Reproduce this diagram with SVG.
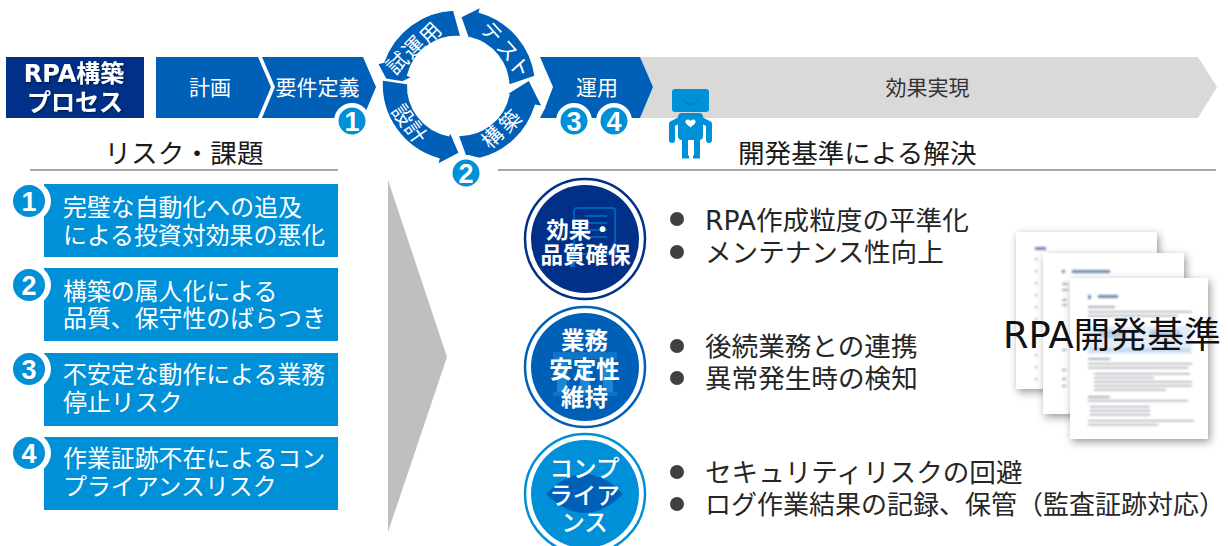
<svg xmlns="http://www.w3.org/2000/svg" xmlns:xlink="http://www.w3.org/1999/xlink" width="1228" height="546" viewBox="0 0 1228 546">
<style>
text{font-family:"DejaVu Sans","Noto Sans CJK JP",sans-serif}
.w{fill:#fff}
.mid{text-anchor:middle}
.head{font-size:26.6px;fill:#1a1a1a}
.chev{font-size:21px;fill:#fff}
.risk{font-size:23.9px;fill:#fff}
.item{font-size:26.6px;fill:#262626}
.ring{font-size:21px;fill:#fff;text-anchor:middle}
.capt{font-size:23.5px;fill:#fff;text-anchor:middle;font-weight:700}
.num{font-family:"Liberation Sans",sans-serif;font-weight:700;font-size:27px;fill:#fff;text-anchor:middle}
.blue{fill:#0060b8}
.sky{fill:#0090d8}
.seg{fill:#0060b8;stroke:#fff;stroke-width:2.500;stroke-linejoin:miter}
.pg{fill:#fff;filter:url(#pageShadow)}
.ln{fill:#a8adb5}
.ln2{fill:#6f87b0}
</style>
<defs>
<filter id="pageShadow" x="-15%" y="-15%" width="130%" height="130%"><feDropShadow dx="2" dy="3" stdDeviation="4" flood-color="#000" flood-opacity=".4"/></filter>
<filter id="soft" x="-5%" y="-20%" width="110%" height="140%"><feGaussianBlur stdDeviation=".9"/></filter>
<filter id="titleShadow" x="-10%" y="-10%" width="120%" height="130%"><feDropShadow dx="1" dy="1" stdDeviation="1" flood-color="#000" flood-opacity=".5"/></filter>
<g id="badge"><circle r="18" fill="#fff"/><circle r="13.500" fill="#0090d8"/></g>
<g id="badge-large"><circle cx="2" r="20" fill="#fff"/><circle r="16" fill="#0090d8"/></g>
</defs>
<rect width="1228" height="546" fill="#fff"/>

<g id="process-title">
<rect x="6" y="57" width="138" height="61" fill="#003087"/>
<g filter="url(#titleShadow)">
<text class="w mid" x="74" y="81.500" font-size="24" font-weight="700">RPA構築</text>
<text class="w mid" x="75" y="110.500" font-size="24" font-weight="700">プロセス</text>
</g>
</g>

<g id="step-plan">
<path class="blue" d="M156 57H258L271 87 258 118H156Z"/>
<text class="chev mid" x="210" y="94.500">計画</text>
</g>
<g id="step-requirements">
<path class="blue" d="M262 57H363L376 87 363 118H262L275 87Z"/>
<text class="chev mid" x="317.500" y="94.500">要件定義</text>
</g>
<g id="step-benefit">
<path fill="#d9d9d9" d="M640 57H1198L1217 87 1198 118H640L653 87Z"/>
<text class="mid" x="927.500" y="94.500" font-size="21" fill="#333">効果実現</text>
</g>
<g id="step-operation">
<path class="blue" d="M540 57H640L653 87 640 118H540L545 108 553 87Z"/>
<text class="chev mid" x="597" y="94.500">運用</text>
</g>

<g id="connectors">
<!-- four ring arrows running counter-clockwise -->
<path class="seg" d="M461.700 37.300A50 50 0 0 0 408.300 75L413.300 77.300 390 88.300 376.700 63.300 383.300 61.700A78 78 0 0 1 454 9.500Z"/>
<path class="seg" d="M408.300 83.300A50 50 0 0 0 448.300 135L450 130 460 153.300 436.700 165.700 438.300 159.300A78 78 0 0 1 381.700 79.300Z"/>
<path class="seg" d="M457.300 135A50 50 0 0 0 508.300 95L505 94.300 529.300 79.300 543.300 107.300 535.700 106A78 78 0 0 1 480 159 L465 156Z"/>
<path class="seg" d="M508.300 86A50 50 0 0 0 470 38.300L469.300 42.700 460 16.700 481.700 6 480 11.700A78 78 0 0 1 535.700 76.700Z"/>
<polygon id="flow-triangle" points="388,180 447,357 388,532" fill="#bfbfbf"/>
</g>

<g id="cycle-test">
<text class="ring" transform="translate(492 32) rotate(48)" y="8">テ</text>
<text class="ring" transform="translate(508 50) rotate(48)" y="8">ス</text>
<text class="ring" transform="translate(520 67) rotate(48)" y="8">ト</text>
</g>
<g id="cycle-trial">
<text class="ring" transform="translate(397 63) rotate(-45)" y="8">試</text>
<text class="ring" transform="translate(413 47) rotate(-45)" y="8">運</text>
<text class="ring" transform="translate(430 33) rotate(-45)" y="8">用</text>
</g>
<g id="cycle-design">
<text class="ring" transform="translate(403 115) rotate(55)" y="8">設</text>
<text class="ring" transform="translate(416 132) rotate(55)" y="8">計</text>
</g>
<g id="cycle-build">
<text class="ring" transform="translate(492 137) rotate(-45)" y="8">構</text>
<text class="ring" transform="translate(510 121) rotate(-45)" y="8">築</text>
</g>

<g id="badges-process">
<use href="#badge" xlink:href="#badge" x="352" y="121"/><text class="num" x="352" y="130.500">1</text>
<use href="#badge" xlink:href="#badge" x="466" y="173"/><text class="num" x="466" y="182.500">2</text>
<use href="#badge" xlink:href="#badge" x="574" y="121"/>
<use href="#badge" xlink:href="#badge" x="614" y="121"/>
<text class="num" x="574" y="130.500">3</text><text class="num" x="614" y="130.500">4</text>
</g>

<g id="robot">
<rect x="672" y="89" width="37" height="23" rx="3" fill="#0090d8"/>
<path d="M684 99v2M697 99v2M686 103q5 3 9 0" fill="none" stroke="#0070b8" stroke-width="1"/>
<rect x="678" y="113" width="25" height="27" rx="4" fill="#0090d8"/>
<path d="M680 120L672 124V140M701 120L709 124V140" fill="none" stroke="#0090d8" stroke-width="6" stroke-linecap="round" stroke-linejoin="round"/>
<path d="M685 138V156M697 138V156" stroke="#0090d8" stroke-width="6" fill="none"/>
<path d="M682 157h7M693 157h7M683 148h5M695 148h5" stroke="#0090d8" stroke-width="3" fill="none"/>
<path d="M690.500 121c-2-3-6-1-5 1.500 .5 1.500 3.500 3.500 5 5 1.500-1.500 4.500-3.500 5-5 1-2.500-3-4.500-5-1.500Z" fill="#fff"/>
</g>

<g id="risk-heading">
<text class="head mid" x="184" y="163">リスク・課題</text>
<rect x="30" y="169" width="308" height="2" fill="#a6a6a6"/>
</g>
<g id="risk-1">
<rect class="sky" x="44" y="184" width="294" height="73"/>
<use href="#badge-large" xlink:href="#badge-large" x="29" y="201"/><text class="num" x="29" y="211">1</text>
<text class="risk" x="63" y="216">完璧な自動化への追及</text>
<text class="risk" x="63" y="243.500">による投資対効果の悪化</text>
</g>
<g id="risk-2">
<rect class="sky" x="44" y="268" width="294" height="73"/>
<use href="#badge-large" xlink:href="#badge-large" x="29" y="285"/><text class="num" x="29" y="295">2</text>
<text class="risk" x="63" y="299.500">構築の属人化による</text>
<text class="risk" x="63" y="327">品質、保守性のばらつき</text>
</g>
<g id="risk-3">
<rect class="sky" x="44" y="353" width="294" height="73"/>
<use href="#badge-large" xlink:href="#badge-large" x="29" y="369"/><text class="num" x="29" y="379">3</text>
<text class="risk" x="63" y="383">不安定な動作による業務</text>
<text class="risk" x="63" y="411">停止リスク</text>
</g>
<g id="risk-4">
<rect class="sky" x="44" y="437" width="294" height="73"/>
<use href="#badge-large" xlink:href="#badge-large" x="29" y="453"/><text class="num" x="29" y="463">4</text>
<text class="risk" x="63" y="467">作業証跡不在によるコン</text>
<text class="risk" x="63" y="494.500">プライアンスリスク</text>
</g>

<g id="solution-heading">
<text class="head" x="738" y="163">開発基準による解決</text>
<rect x="498" y="169" width="718" height="2" fill="#a6a6a6"/>
</g>

<g id="solution-quality">
<circle cx="585" cy="239" r="60" fill="#fff" stroke="#003087" stroke-width="2.500"/>
<circle cx="585" cy="239" r="54" fill="#003087"/>
<rect x="574" y="208" width="41" height="46" rx="3" fill="none" stroke="#0060b8" stroke-width="2"/>
<path d="M585 216h22M585 223h22M585 230h22M585 237h22" stroke="#0060b8" stroke-width="2"/>
<rect x="570" y="245" width="5" height="22" fill="#0070c0"/>
<text class="capt" x="580" y="238" style="font-size:22.500px">効果・</text>
<text class="capt" x="585.500" y="263" style="font-size:22.500px">品質確保</text>
</g>
<g id="solution-stability">
<circle cx="585" cy="367" r="60" fill="#fff" stroke="#0060b8" stroke-width="2.500"/>
<circle cx="585" cy="367" r="54" fill="#0060b8"/>
<path d="M553 352h64v7h-64ZM553 392h64v4h-64Z" fill="#0f74c8"/>
<path d="M557 360h10v32h-10ZM580 360h10v32h-10ZM603 360h10v32h-10Z" fill="#1a86d4"/>
<text class="capt" x="584.500" y="348.500">業務</text>
<text class="capt" x="584.500" y="377.500">安定性</text>
<text class="capt" x="584.500" y="405.500">維持</text>
</g>
<g id="solution-compliance">
<circle cx="585" cy="494" r="60" fill="#fff" stroke="#0090d8" stroke-width="2.500"/>
<circle cx="585" cy="494" r="54" fill="#0090d8"/>
<path d="M546 494Q585 454 623 494 585 532 546 494Z" fill="#0060b8"/>
<text class="capt" x="584.500" y="476.500" style="font-weight:500">コンプ</text>
<text class="capt" x="584.500" y="503.500" style="font-weight:500">ライア</text>
<text class="capt" x="584.500" y="530.500" style="font-weight:500">ンス</text>
</g>

<g id="benefit-list">
<g fill="#404040">
<circle cx="677" cy="219" r="7"/><circle cx="677" cy="252" r="7"/>
<circle cx="677" cy="346" r="7"/><circle cx="677" cy="378" r="7"/>
<circle cx="677" cy="472" r="7"/><circle cx="677" cy="504" r="7"/>
</g>
<text class="item" x="705" y="230">RPA作成粒度の平準化</text>
<text class="item" x="705" y="262">メンテナンス性向上</text>
<text class="item" x="705" y="356">後続業務との連携</text>
<text class="item" x="705" y="387.500">異常発生時の検知</text>
<text class="item" x="705" y="482">セキュリティリスクの回避</text>
<text class="item" x="705" y="514" style="font-size:26px">ログ作業結果の記録、保管（監査証跡対応）</text>
</g>

<g id="document-stack">
<rect class="pg" x="1016" y="232" width="141" height="157"/>
<g filter="url(#soft)">
<rect class="ln2" x="1035" y="247" width="11" height="3"/>
<rect class="ln" x="1035" y="258" width="2" height="2"/><rect class="ln" x="1035" y="270" width="2" height="2"/>
<rect class="ln" x="1035" y="282" width="2" height="2"/><rect class="ln" x="1035" y="294" width="2" height="2"/>
<rect class="ln" x="1035" y="306" width="2" height="2"/><rect class="ln" x="1035" y="318" width="2" height="2"/>
<rect class="ln" x="1035" y="354" width="2" height="2"/><rect class="ln" x="1035" y="366" width="2" height="2"/>
<rect class="ln" x="1035" y="378" width="2" height="2"/>
</g>
<rect class="pg" x="1043" y="253" width="141" height="161"/>
<g filter="url(#soft)">
<rect class="ln2" x="1062" y="270" width="3" height="3"/><rect class="ln2" x="1072" y="270" width="38" height="3"/>
<rect class="ln" x="1062" y="283" width="6" height="2"/><rect class="ln" x="1062" y="289" width="6" height="2"/>
<rect class="ln" x="1062" y="299" width="5" height="2"/><rect class="ln" x="1062" y="304" width="5" height="2"/>
<rect class="ln" x="1062" y="349" width="4" height="2"/><rect class="ln" x="1062" y="369" width="4" height="2"/>
<rect class="ln" x="1062" y="378" width="4" height="2"/><rect class="ln" x="1062" y="385" width="4" height="2"/>
</g>
<rect class="pg" x="1070" y="278" width="138" height="161"/>
<g filter="url(#soft)">
<rect class="ln2" x="1088" y="295" width="3" height="4"/><rect class="ln2" x="1098" y="295" width="20" height="3"/>
<rect class="ln" x="1088" y="306" width="27" height="2"/>
<rect class="ln" x="1088" y="311" width="104" height="1.500"/><rect class="ln" x="1088" y="315" width="90" height="1.500"/>
<rect x="1087" y="326" width="105" height="28" fill="#e2edf7"/>
<rect x="1100" y="330" width="26" height="8" fill="#b4cfe9"/><rect x="1150" y="330" width="30" height="8" fill="#b4cfe9"/>
<rect x="1090" y="348" width="100" height="4" fill="#c4d9ee"/>
<rect class="ln" x="1088" y="358" width="22" height="2"/>
<rect class="ln" x="1088" y="363" width="104" height="1.500"/><rect class="ln" x="1088" y="367" width="100" height="1.500"/>
<rect class="ln" x="1094" y="373" width="96" height="1.500"/><rect class="ln" x="1094" y="377" width="60" height="1.500"/>
<rect class="ln" x="1094" y="381" width="98" height="1.500"/><rect class="ln" x="1094" y="385" width="98" height="1.500"/>
<rect class="ln" x="1094" y="389" width="72" height="1.500"/>
<rect class="ln" x="1088" y="396" width="22" height="2"/>
<rect class="ln" x="1088" y="400" width="100" height="1.500"/>
<rect class="ln" x="1090" y="406" width="60" height="1.500"/><rect class="ln" x="1090" y="410" width="60" height="1.500"/><rect class="ln" x="1090" y="414" width="60" height="1.500"/>
<rect class="ln" x="1088" y="420" width="106" height="1.500"/><rect class="ln" x="1088" y="424" width="70" height="1.500"/>
</g>
<text x="1003" y="348" font-size="36.800" fill="#111">RPA開発基準</text>
</g>
</svg>
